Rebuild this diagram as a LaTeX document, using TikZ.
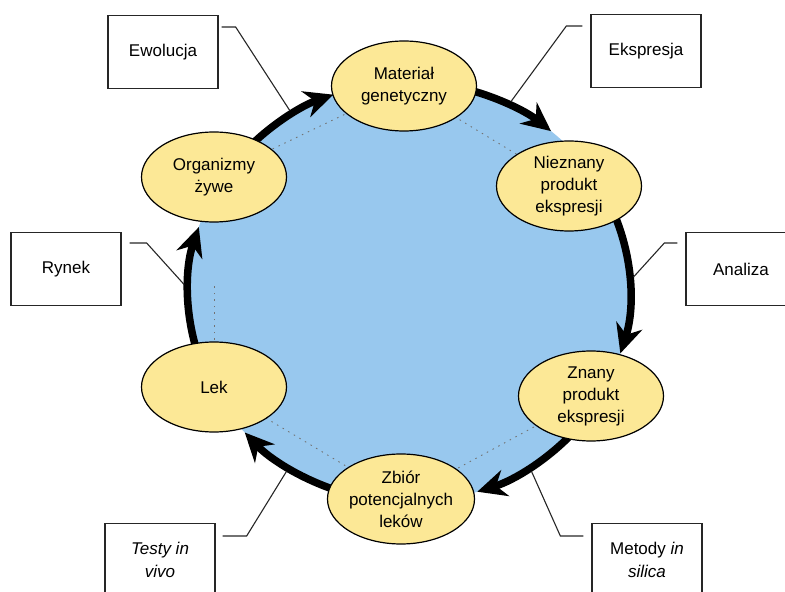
\documentclass[tikz,border=0pt]{standalone}
\usepackage{fontspec}
\setmainfont{Liberation Sans}
\usetikzlibrary{arrows.meta,shapes.geometric,backgrounds}
\definecolor{poolblue}{RGB}{152,200,238}
\definecolor{stageyellow}{RGB}{252,232,150}
\tikzset{
  stage/.style={ellipse, draw=black, line width=1.2pt, fill=stageyellow,
    minimum width=145pt, minimum height=90pt, inner sep=0pt, align=center,
    font=\fontsize{17}{22}\selectfont},
  labelbox/.style={rectangle, draw=black!85, line width=1.3pt, fill=white,
    minimum width=110pt, minimum height=73pt, align=center,
    font=\fontsize{17}{23}\selectfont},
  cyclearrow/.style={line width=7.5pt, -{Stealth[length=29pt,width=27pt]}},
  leader/.style={line width=1.1pt, black!85},
  hexline/.style={line width=0.9pt, black!55, dash pattern=on 1.5pt off 5pt}
}

\begin{document}
\begin{tikzpicture}[x=1pt,y=1pt]
		%%%%% START %%%%%
		\useasboundingbox (0,0) rectangle (785,592);
		\clip (0,0) rectangle (785,592);
		
		\coordinate (hub) at (409,300);
		
		% cycle stages
		\node[stage] (organizmy) at (214,415) {Organizmy\\żywe};
		\node[stage] (material) at (404,506) {Materiał\\genetyczny};
		\node[stage] (nieznany) at (569,406) {Nieznany\\produkt\\ekspresji};
		\node[stage] (znany) at (591,196) {Znany\\produkt\\ekspresji};
		\node[stage] (zbior) at (401,93) {Zbiór\\potencjalnych\\leków};
		\node[stage] (lek) at (214,205) {Lek};
		
		% processes
		\node[labelbox] (ewolucja) at (163,540) {Ewolucja};
		\node[labelbox] (ekspresja) at (646,541) {Ekspresja};
		\node[labelbox] (rynek) at (66,323) {Rynek};
		\node[labelbox] (analiza) at (741,323) {Analiza};
		\node[labelbox] (testy) at (160,32) {\textit{Testy in}\\\textit{vivo}};
		\node[labelbox] (metody) at (647,32) {Metody \textit{in}\\\textit{silica}};
		
		\begin{pgfonlayer}{background}
		\fill[poolblue] (hub) ellipse[x radius=221, y radius=210];
		
		\draw[hexline] (organizmy.center) -- (material.center);
		\draw[hexline] (material.center) -- (nieznany.center);
		\draw[hexline] (znany.center) -- (zbior.center);
		\draw[hexline] (zbior.center) -- (lek.center);
		\draw[hexline, shorten <=47pt, shorten >=108pt] (lek.center) -- (organizmy.center);
		
		\draw[cyclearrow] (hub) ++(136:221 and 210) arc[start angle=136, end angle=110, x radius=221, y radius=210];
		\draw[cyclearrow] (hub) ++(75:221 and 210) arc[start angle=75, end angle=50, x radius=221, y radius=210];
		\draw[cyclearrow] (hub) ++(23:221 and 210) arc[start angle=23, end angle=-17, x radius=221, y radius=210];
		\draw[cyclearrow] (hub) ++(-42:221 and 210) arc[start angle=-42, end angle=-72, x radius=221, y radius=210];
		\draw[cyclearrow] (hub) ++(-108:221 and 210) arc[start angle=-108, end angle=-138, x radius=221, y radius=210];
		\draw[cyclearrow] (hub) ++(197:221 and 210) arc[start angle=197, end angle=162, x radius=221, y radius=210];
		\end{pgfonlayer}
		
		% leader ends on the outer rim
		\path (hub) ++(122:225 and 214) coordinate (ewolucjaEnd);
		\path (hub) ++(63:225 and 214) coordinate (ekspresjaEnd);
		\path (hub) ++(4:225 and 214) coordinate (analizaEnd);
		\path (hub) ++(178:225 and 214) coordinate (rynekEnd);
		\path (hub) ++(-123:225 and 214) coordinate (testyEnd);
		\path (hub) ++(-57:225 and 214) coordinate (metodyEnd);
		
		\draw[leader] ([xshift=3pt,yshift=25pt]ewolucja.east) -- ++(14,0) -- (ewolucjaEnd);
		\draw[leader] ([xshift=-8pt,yshift=25pt]ekspresja.west) -- ++(-16,0) -- (ekspresjaEnd);
		\draw[leader] ([xshift=-8pt,yshift=26pt]analiza.west) -- ++(-13,0) -- (analizaEnd);
		\draw[leader] ([xshift=8pt,yshift=26pt]rynek.east) -- ++(17,0) -- (rynekEnd);
		\draw[leader] ([xshift=7pt,yshift=24pt]testy.east) -- ++(24,0) -- (testyEnd);
		\draw[leader] ([xshift=-8pt,yshift=24pt]metody.west) -- ++(-23,0) -- (metodyEnd);
		
		%%%%% END %%%%%
	\end{tikzpicture}
\end{document}
